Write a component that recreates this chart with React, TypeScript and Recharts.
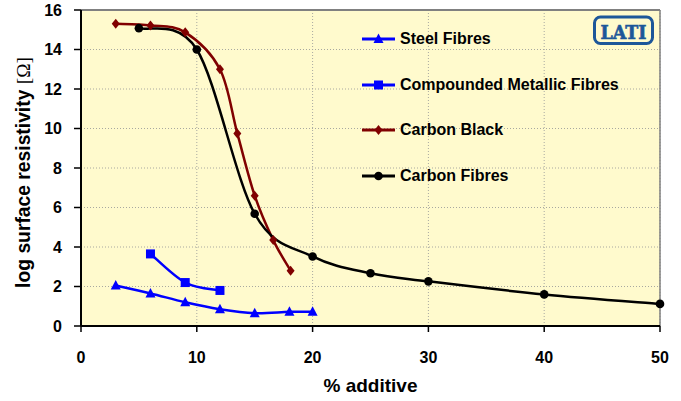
import React from 'react';
import {
  LineChart, Line, XAxis, YAxis, CartesianGrid, ReferenceLine, Legend,
} from 'recharts';

// ---- data ----
const xTicks = [0, 10, 20, 30, 40, 50];
const yTicks = [0, 2, 4, 6, 8, 10, 12, 14, 16];

const steelX = [3, 6, 9, 12, 15, 18, 20];
const steelY = [2.05, 1.65, 1.2, 0.85, 0.65, 0.72, 0.72];

const compoundedX = [6, 9, 12];
const compoundedY = [3.65, 2.2, 1.8];

const carbonBlackX = [3, 6, 9, 12, 13.5, 15, 16.6, 18.1];
const carbonBlackY = [15.3, 15.22, 14.87, 13.0, 9.75, 6.6, 4.35, 2.8];

const carbonFibresX = [5, 10, 15, 20, 25, 30, 40, 50];
const carbonFibresY = [15.08, 14.0, 5.68, 3.52, 2.67, 2.26, 1.6, 1.12];

const seriesNames = ['Steel Fibres', 'Compounded Metallic Fibres', 'Carbon Black', 'Carbon Fibres'];
const seriesColors = ['#0000FF', '#0000FF', '#800000', '#000000'];
const seriesShapes = ['triangle', 'square', 'diamond', 'circle'];

const zip = (xs: number[], ys: number[]) => xs.map((x, i) => ({ x, y: ys[i] }));
const seriesData = [
  zip(steelX, steelY),
  zip(compoundedX, compoundedY),
  zip(carbonBlackX, carbonBlackY),
  zip(carbonFibresX, carbonFibresY),
];

const FONT = '"Liberation Sans", Arial, sans-serif';

// Excel-like smoothed line (Catmull-Rom as cubic Bezier)
function excelSmooth(context: any) {
  let pts: number[][] = [];
  return {
    areaStart() {},
    areaEnd() {},
    lineStart() { pts = []; },
    point(x: number, y: number) { pts.push([+x, +y]); },
    lineEnd() {
      const n = pts.length;
      if (!n) return;
      context.moveTo(pts[0][0], pts[0][1]);
      for (let i = 0; i < n - 1; i++) {
        const p0 = pts[Math.max(i - 1, 0)];
        const p1 = pts[i];
        const p2 = pts[i + 1];
        const p3 = pts[Math.min(i + 2, n - 1)];
        context.bezierCurveTo(
          p1[0] + (p2[0] - p0[0]) / 6, p1[1] + (p2[1] - p0[1]) / 6,
          p2[0] - (p3[0] - p1[0]) / 6, p2[1] - (p3[1] - p1[1]) / 6,
          p2[0], p2[1],
        );
      }
    },
  };
}

function Marker({ shape, cx, cy, color }: { shape: string; cx: number; cy: number; color: string }) {
  if (shape === 'triangle') {
    return <polygon points={`${cx},${cy - 5.5} ${cx + 5},${cy + 4} ${cx - 5},${cy + 4}`} fill={color} />;
  }
  if (shape === 'square') {
    return <rect x={cx - 4.5} y={cy - 4.5} width={9} height={9} fill={color} />;
  }
  if (shape === 'diamond') {
    return <polygon points={`${cx},${cy - 5} ${cx + 4},${cy} ${cx},${cy + 5} ${cx - 4},${cy}`} fill={color} />;
  }
  return <circle cx={cx} cy={cy} r={4.3} fill={color} />;
}

const makeDot = (shape: string, color: string) => (props: any) => {
  const { cx, cy, index } = props;
  if (cx == null || cy == null) return <g key={`d-${index}`} />;
  return (
    <g key={`d-${shape}-${index}`}>
      <Marker shape={shape} cx={cx} cy={cy} color={color} />
    </g>
  );
};

const LegendContent = (props: any) => {
  const payload = [...(props.payload || [])].sort(
    (a: any, b: any) => seriesNames.indexOf(a.value) - seriesNames.indexOf(b.value),
  );
  return (
    <div style={{ fontFamily: FONT, fontWeight: 'bold', fontSize: 16, color: '#000' }}>
      {payload.map((entry: any) => {
        const idx = seriesNames.indexOf(entry.value);
        const shape = seriesShapes[idx] || 'circle';
        const color = seriesColors[idx] || entry.color;
        return (
          <div key={entry.value} style={{ height: 45.6, display: 'flex', alignItems: 'center', whiteSpace: 'nowrap' }}>
            <svg width={38} height={14} style={{ display: 'block' }}>
              <line x1={0} y1={7} x2={33} y2={7} stroke={color} strokeWidth={3} />
              <Marker shape={shape} cx={16.5} cy={7} color={color} />
            </svg>
            <span>{entry.value}</span>
          </div>
        );
      })}
    </div>
  );
};

const YLabel = (props: any) => {
  const vb = props.viewBox || { x: 0, y: 10, width: 81, height: 316 };
  const x = vb.x + 30;
  const y = vb.y + vb.height / 2 + 4.5;
  return (
    <text x={x} y={y} transform={`rotate(-90, ${x}, ${y})`} textAnchor="middle" fill="#000">
      <tspan fontFamily={FONT} fontWeight="bold" fontSize={19.3}>log surface resistivity </tspan>
      <tspan fontFamily='"Liberation Serif", "Times New Roman", serif' fontSize={19.3}>[Ω]</tspan>
    </text>
  );
};

const XLabel = (props: any) => {
  const vb = props.viewBox || { x: 81, y: 326, width: 579, height: 75 };
  return (
    <text x={vb.x + vb.width / 2} y={vb.y + 65.5} textAnchor="middle" fill="#000"
      fontFamily={FONT} fontWeight="bold" fontSize={19}>
      % additive
    </text>
  );
};

export default function App() {
  const tickStyle = { fontFamily: FONT, fontWeight: 'bold', fontSize: 16, fill: '#000' } as any;
  return (
    <div style={{ position: 'absolute', left: 0, top: 0, width: 681, height: 401, background: '#fff' }}>
      <LineChart width={681} height={401} margin={{ top: 10, right: 21, bottom: 0, left: 0 }}>
        <CartesianGrid stroke="#a8a8a0" strokeDasharray="1 2" fill="#FFFACD" fillOpacity={1} />
        <XAxis
          type="number" dataKey="x" domain={[0, 50]} ticks={xTicks} interval={0}
          height={75} tickSize={6} tickMargin={20}
          axisLine={{ stroke: '#000', strokeWidth: 2 }} tickLine={{ stroke: '#000', strokeWidth: 1.5 }}
          tick={tickStyle} label={<XLabel />}
        />
        <YAxis
          type="number" domain={[0, 16]} ticks={yTicks} interval={0}
          width={81} tickSize={7} tickMargin={12}
          axisLine={{ stroke: '#000', strokeWidth: 2 }} tickLine={{ stroke: '#000', strokeWidth: 1.5 }}
          tick={tickStyle} label={<YLabel />}
        />
        <ReferenceLine y={16} stroke="#808080" strokeWidth={2} ifOverflow="visible" />
        <ReferenceLine x={50} stroke="#808080" strokeWidth={1.5} ifOverflow="visible" />
        {seriesNames.map((name, i) => (
          <Line
            key={name}
            name={name}
            data={seriesData[i]}
            dataKey="y"
            type={excelSmooth as any}
            stroke={seriesColors[i]}
            strokeWidth={2.5}
            dot={makeDot(seriesShapes[i], seriesColors[i])}
            activeDot={false}
            isAnimationActive={false}
          />
        ))}
        <Legend
          layout="vertical" align="center" verticalAlign="middle"
          itemSorter={null as any}
          wrapperStyle={{ left: 362, top: 16.5, width: 'auto' }}
          content={<LegendContent />}
        />
      </LineChart>
      <svg width={681} height={401} style={{ position: 'absolute', left: 0, top: 0, pointerEvents: 'none' }}>
        <rect x={594.5} y={17} width={58} height={26.5} rx={6} ry={6} fill="none" stroke="#1D5799" strokeWidth={3} />
        <text x={623.5} y={38.5} textAnchor="middle" fill="#1D5799" stroke="#1D5799" strokeWidth={0.6}
          fontFamily='"DejaVu Serif", "Liberation Serif", serif' fontWeight="bold" fontSize={18}
          textLength={46} lengthAdjust="spacingAndGlyphs">
          LATI
        </text>
      </svg>
    </div>
  );
}
